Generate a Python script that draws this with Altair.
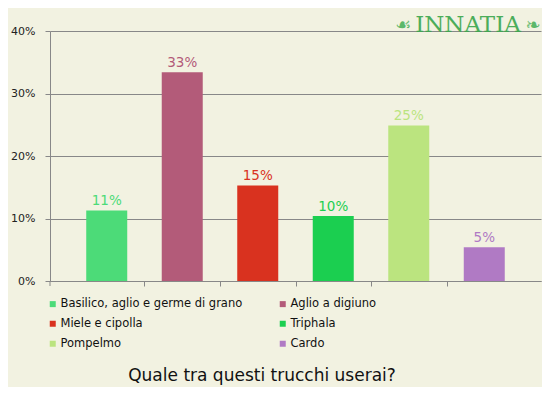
import altair as alt
import pandas as pd

categories = ["Basilico, aglio e germe di grano", "Aglio a digiuno", "Miele e cipolla",
              "Triphala", "Pompelmo", "Cardo"]
values = [0.113, 0.334, 0.153, 0.104, 0.249, 0.054]
colors = ["#4cdb78", "#b35b79", "#d9321f", "#1bcf50", "#bbe47f", "#b07ac4"]
y_ticks = [0, 0.1, 0.2, 0.3, 0.4]
title_text = "Quale tra questi trucchi userai?"
logo_text = "INNATIA"

df = pd.DataFrame({"cat": categories, "val": values})

BG = "#f2f2e1"
GRID = "#888888"

x_enc = alt.X("cat:N", sort=categories,
              scale=alt.Scale(paddingInner=0.457, paddingOuter=0.48),
              axis=alt.Axis(title=None, labels=False, tickOffset=-37.75, tickSize=5,
                            tickColor=alt.condition(f"datum.value == '{categories[0]}'",
                                                    alt.value("transparent"), alt.value(GRID)),
                            domainColor=GRID, grid=False))
y_enc = alt.Y("val:Q", scale=alt.Scale(domain=[0, 0.4], nice=False),
              axis=alt.Axis(title=None, values=y_ticks, format="%", tickSize=5,
                            labelPadding=10, labelFontSize=11, labelColor="#222222",
                            domainColor=GRID, tickColor=GRID, gridColor=GRID, gridOpacity=1,
                            labelFont="DejaVu Sans"))
color_enc = alt.Color("cat:N", sort=categories,
                      scale=alt.Scale(domain=categories, range=colors),
                      legend=alt.Legend(title=None, orient="none", legendX=-3, legendY=267,
                                        direction="horizontal",
                                        columns=2, columnPadding=34, rowPadding=7,
                                        symbolType="square", symbolSize=36, symbolStrokeWidth=0,
                                        labelFontSize=11.5, labelFont="DejaVu Sans",
                                        labelColor="#111111", labelOffset=2, labelLimit=400))

base = alt.Chart(df)
bars = base.mark_bar().encode(x=x_enc, y=y_enc, color=color_enc)
labels = base.mark_text(baseline="bottom", dy=-2, fontSize=13.5, font="DejaVu Sans").encode(
    x=alt.X("cat:N", sort=categories),
    y=alt.Y("val:Q"),
    text=alt.Text("val:Q", format=".0%"),
    color=alt.Color("cat:N", sort=categories, legend=None),
)

# extension of the y axis below the baseline
yext = alt.Chart(pd.DataFrame({"a": [0]})).mark_rule(color=GRID).encode(
    x=alt.value(0), y=alt.value(250), y2=alt.value(255))

title = alt.Chart(pd.DataFrame({"t": [title_text]})).mark_text(
    fontSize=17, font="DejaVu Sans", color="#111111", baseline="alphabetic", align="center"
).encode(text="t:N", x=alt.value(212), y=alt.value(350))

logo = alt.Chart(pd.DataFrame({"t": [logo_text]})).mark_text(
    fontSize=23, font="DejaVu Serif", color="#3aa64c", baseline="alphabetic", align="center",
    opacity=0.9
).encode(text="t:N", x=alt.value(418), y=alt.value(1))
orn = alt.Chart(pd.DataFrame({"t": ["\u2619", "\u2767"], "px": [353, 483]})).mark_text(
    fontSize=18, font="DejaVu Sans", color="#5cb86a", baseline="alphabetic", align="center"
).encode(text="t:N", x=alt.X("px:Q", scale=None), y=alt.value(0))

chart = alt.layer(bars, labels, yext, logo, orn, title).properties(
    width=491, height=250,
    autosize=alt.AutoSizeParams(type="none"),
    padding={"left": 42, "top": 23, "right": 1, "bottom": 106},
    background=BG,
).configure_view(stroke=None).configure_axis(gridWidth=1, domainWidth=1, tickWidth=1)

chart.save("out.html", embed_options={"renderer": "svg", "actions": False})
